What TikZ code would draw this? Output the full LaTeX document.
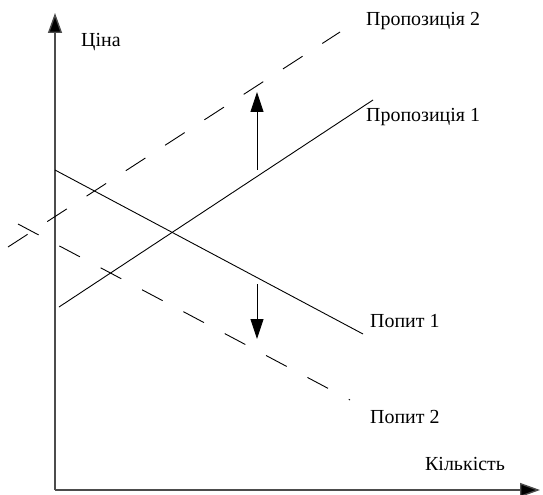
\documentclass[tikz,border=0pt]{standalone}
\usepackage{fontspec}
\setmainfont{Liberation Serif}
\usetikzlibrary{arrows.meta}
\begin{document}
\begin{tikzpicture}[x=1bp,y=-1bp,
  axis/.style={line width=1.4bp,draw=black!70,-{Triangle[length=20bp,width=14bp,fill=black]}},
  curve/.style={line width=0.9bp,draw=black},
  dashcurve/.style={curve,dash pattern=on 23.3bp off 23.5bp},
  shiftarrow/.style={line width=0.9bp,-{Triangle[length=20bp,width=13bp]}},
  lbl/.style={anchor=base west,inner sep=0pt,font=\fontsize{20}{24}\selectfont}]
\useasboundingbox (0,0) rectangle (543,495);
% axes
\coordinate (O) at (55,490);
\coordinate (ytop) at (55,13);
\coordinate (xend) at (540,490);
\draw[axis] (O) -- (ytop);
\draw[axis] (O) -- (xend);
% curves
\coordinate (d1a) at (55,170);
\coordinate (d1b) at (363,334);
\coordinate (s1a) at (59,307);
\coordinate (s1b) at (373,100);
\coordinate (s2a) at (8,247);
\coordinate (s2b) at (340,32);
\coordinate (d2a) at (18,224);
\coordinate (d2b) at (350,400);
\draw[curve] (d1a) -- (d1b);
\draw[curve] (s1a) -- (s1b);
\draw[dashcurve] (s2a) -- (s2b);
\draw[dashcurve] (d2a) -- (d2b);
% shift arrows
\coordinate (upa) at (257,170);
\coordinate (upb) at (257,92);
\coordinate (dna) at (257,284);
\coordinate (dnb) at (257,339);
\draw[shiftarrow] (upa) -- (upb);
\draw[shiftarrow] (dna) -- (dnb);
% labels
\node[lbl] (lprice) at (81,47) {Ціна};
\node[lbl] (ls2) at (366,26) {Пропозиція 2};
\node[lbl] (ls1) at (366,122) {Пропозиція 1};
\node[lbl] (ld1) at (370,327) {Попит 1};
\node[lbl] (ld2) at (370,423) {Попит 2};
\node[lbl] (lqty) at (425,470) {Кількість};
\end{tikzpicture}
\end{document}
